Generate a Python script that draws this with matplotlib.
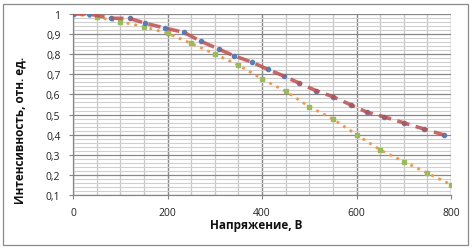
import matplotlib
matplotlib.use("Agg")
import matplotlib.pyplot as plt
from matplotlib.patches import Rectangle
from matplotlib.ticker import MultipleLocator, FixedLocator

plt.rcParams['font.family'] = ['Open Sans', 'DejaVu Sans']

# Data
exp_x = [0, 34, 81, 120, 153, 195, 234, 271, 308, 340, 379, 412, 446, 478, 514,
         550, 589, 623, 658, 701, 743, 786]
exp_y = [1.0, 1.0, 0.979, 0.978, 0.954, 0.930, 0.909, 0.864, 0.826, 0.793, 0.760,
         0.725, 0.692, 0.657, 0.619, 0.589, 0.547, 0.511, 0.489, 0.458, 0.428, 0.398]

calc_x = [0, 50, 100, 150, 200, 250, 300, 350, 400, 450, 500, 550, 600, 650, 700, 750, 800]
calc_y = [1.0, 0.984, 0.962, 0.937, 0.904, 0.854, 0.801, 0.746, 0.677, 0.616, 0.539,
          0.478, 0.400, 0.324, 0.266, 0.209, 0.151]

x_ticks = [0, 200, 400, 600, 800]
y_ticks = [0.1, 0.2, 0.3, 0.4, 0.5, 0.6, 0.7, 0.8, 0.9, 1.0]
y_labels = ['0,1', '0,2', '0,3', '0,4', '0,5', '0,6', '0,7', '0,8', '0,9', '1']
x_label = 'Напряжение, В'
y_label = 'Интенсивность, отн. ед.'

W, H = 474, 251
fig = plt.figure(figsize=(W / 100, H / 100), dpi=100)
fig.patch.set_facecolor('white')
fig.patches.append(Rectangle((3 / W, 5 / H), 465 / W, 241 / H, transform=fig.transFigure,
                             fill=False, edgecolor='#8a8a8a', linewidth=0.9))

L, R, T, B = 73, 451, 15, 196
ax = fig.add_axes([L / W, (H - B) / H, (R - L) / W, (B - T) / H])
ax.set_xlim(0, 800)
ax.set_ylim(0.1, 1.0)

ax.xaxis.set_major_locator(FixedLocator(x_ticks))
ax.xaxis.set_minor_locator(MultipleLocator(50))
ax.yaxis.set_major_locator(FixedLocator(y_ticks))
ax.yaxis.set_minor_locator(MultipleLocator(0.02))
ax.set_yticklabels(y_labels)

ax.grid(which='minor', axis='y', color='#cfcfcf', linewidth=0.8)
ax.grid(which='minor', axis='x', color='#c8c8c8', linewidth=0.9)
ax.grid(which='major', axis='y', color='#888888', linewidth=0.9)
ax.grid(which='major', axis='x', color='#888888', linewidth=1.0)
ax.set_axisbelow(True)

for s in ['top', 'right']:
    ax.spines[s].set_visible(False)
for s in ['left', 'bottom']:
    ax.spines[s].set_color('#868686')
    ax.spines[s].set_linewidth(0.9)

ax.tick_params(which='major', direction='out', length=3, width=0.8, color='#868686',
               labelsize=7.5, labelcolor='#222222')
ax.tick_params(which='minor', length=0)
ax.tick_params(axis='y', pad=6)
ax.tick_params(axis='x', pad=6)

ax.plot(calc_x, calc_y, linestyle=(0, (1, 1.8)), color='#f79646', linewidth=2.0,
        marker='s', markersize=2.2, markerfacecolor='#9bbb59', markeredgecolor='#9bbb59',
        zorder=3)
ax.plot(exp_x, exp_y, linestyle='none', marker='o', markersize=3.0,
        markerfacecolor='#4f81bd', markeredgecolor='#4f81bd', zorder=4)
ax.plot(exp_x, exp_y, linestyle=(0, (3.5, 1.8)), color='#c0504d', linewidth=2.6,
        alpha=0.85, zorder=5)

fig.text(256 / W, (H - 226) / H, x_label, ha='center', va='center', fontsize=8.5,
         fontweight='bold', color='#111111')
fig.text(20 / W, (H - 130) / H, y_label, ha='center', va='center', fontsize=8.5,
         fontweight='bold', rotation=90, color='#111111')

fig.savefig('out.png', dpi=100, facecolor='white')
